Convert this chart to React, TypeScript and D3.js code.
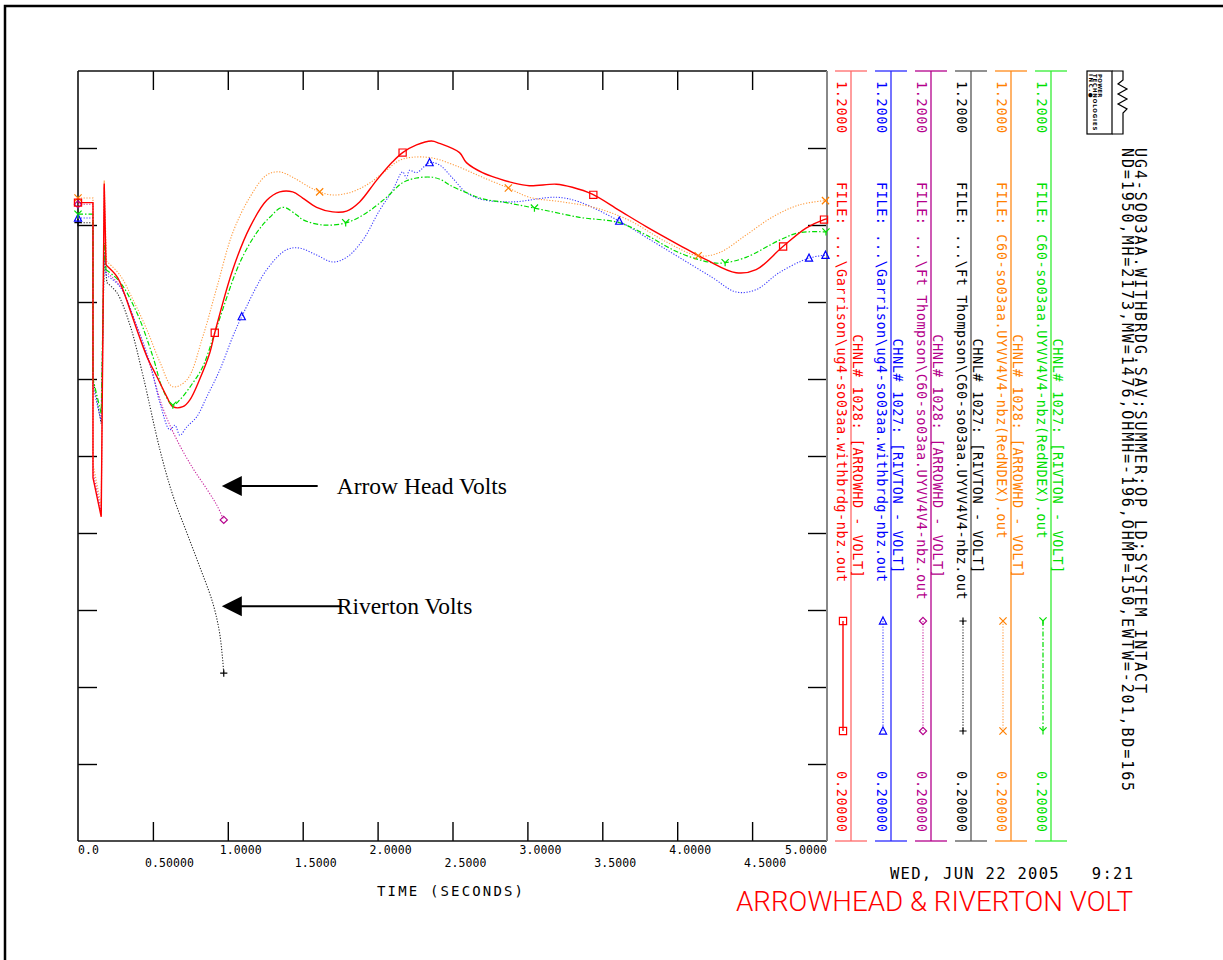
import React, { useEffect, useRef } from 'react';
import * as d3 from 'd3';

type Pt = [number, number];

// time (s), voltage (pu)
const garrisonArrowhd: Pt[] = [
  [0, 1.029], [0.1, 1.029], [0.1, 0.672], [0.155, 0.621], [0.175, 1.054], [0.187, 0.948],
  [0.26, 0.933], [0.3, 0.916], [0.347, 0.89], [0.393, 0.864], [0.46, 0.829], [0.527, 0.803],
  [0.593, 0.777], [0.633, 0.764], [0.7, 0.764], [0.747, 0.773], [0.813, 0.8], [0.88, 0.834],
  [0.913, 0.86], [1.033, 0.942], [1.147, 0.997], [1.26, 1.032], [1.347, 1.043], [1.433, 1.043],
  [1.5, 1.035], [1.593, 1.023], [1.7, 1.017], [1.793, 1.018], [1.88, 1.03], [1.993, 1.058],
  [2.1, 1.082], [2.167, 1.094], [2.26, 1.104], [2.36, 1.109], [2.413, 1.106], [2.547, 1.094],
  [2.593, 1.081], [2.7, 1.068], [2.813, 1.06], [2.9, 1.055], [3.013, 1.051], [3.193, 1.053],
  [3.3, 1.049], [3.433, 1.04], [3.613, 1.019], [3.793, 0.998], [4.013, 0.974], [4.193, 0.955],
  [4.393, 0.938], [4.527, 0.942], [4.7, 0.971], [4.86, 0.996], [4.98, 1.007], [5.0, 1.008],
];
const garrisonRivton: Pt[] = [
  [0, 1.009], [0.1, 1.009], [0.1, 0.79], [0.155, 0.745], [0.175, 0.965], [0.187, 0.935],
  [0.28, 0.92], [0.393, 0.868], [0.48, 0.821], [0.547, 0.769], [0.613, 0.734], [0.647, 0.74],
  [0.68, 0.727], [0.727, 0.738], [0.793, 0.751], [0.86, 0.777], [0.947, 0.812], [1.033, 0.855],
  [1.093, 0.881], [1.26, 0.942], [1.393, 0.968], [1.48, 0.97], [1.593, 0.961], [1.7, 0.952],
  [1.793, 0.958], [1.9, 0.98], [2.013, 1.019], [2.1, 1.045], [2.167, 1.069], [2.193, 1.061],
  [2.213, 1.071], [2.26, 1.068], [2.347, 1.081], [2.413, 1.078], [2.5, 1.061], [2.593, 1.042],
  [2.7, 1.033], [2.9, 1.03], [3.193, 1.036], [3.347, 1.03], [3.613, 1.005], [3.793, 0.984],
  [4.013, 0.958], [4.233, 0.932], [4.393, 0.913], [4.527, 0.916], [4.68, 0.938], [4.88, 0.957],
  [5.0, 0.961],
];
const ftThompsonArrowhd: Pt[] = [
  [0, 1.027], [0.1, 1.027], [0.1, 0.68], [0.155, 0.628], [0.175, 1.05], [0.187, 0.939],
  [0.28, 0.921], [0.393, 0.868], [0.48, 0.818], [0.567, 0.762], [0.66, 0.721], [0.767, 0.684],
  [0.86, 0.657], [0.927, 0.636], [0.973, 0.617],
];
const ftThompsonRivton: Pt[] = [
  [0, 1.003], [0.1, 1.003], [0.1, 0.8], [0.155, 0.742], [0.175, 0.96], [0.193, 0.925],
  [0.26, 0.912], [0.347, 0.87], [0.433, 0.805], [0.547, 0.708], [0.633, 0.649], [0.727, 0.6],
  [0.813, 0.556], [0.9, 0.509], [0.947, 0.468], [0.973, 0.418],
];
const redndexArrowhd: Pt[] = [
  [0, 1.035], [0.1, 1.035], [0.1, 0.69], [0.155, 0.635], [0.175, 1.058], [0.19, 0.953],
  [0.28, 0.935], [0.367, 0.903], [0.46, 0.864], [0.547, 0.822], [0.633, 0.79], [0.727, 0.799],
  [0.833, 0.855], [0.927, 0.919], [1.033, 0.99], [1.147, 1.036], [1.26, 1.065], [1.347, 1.069],
  [1.433, 1.062], [1.547, 1.049], [1.613, 1.043], [1.7, 1.039], [1.813, 1.042], [1.927, 1.052],
  [2.033, 1.067], [2.147, 1.084], [2.233, 1.088], [2.367, 1.087], [2.547, 1.075], [2.7, 1.062],
  [2.873, 1.048], [3.013, 1.036], [3.233, 1.03], [3.46, 1.022], [3.68, 1.006], [3.927, 0.978],
  [4.14, 0.96], [4.28, 0.964], [4.46, 0.987], [4.633, 1.01], [4.813, 1.026], [5.0, 1.032],
];
const redndexRivton: Pt[] = [
  [0, 1.014], [0.1, 1.014], [0.1, 0.8], [0.155, 0.755], [0.175, 0.977], [0.187, 0.942],
  [0.28, 0.926], [0.393, 0.886], [0.5, 0.829], [0.567, 0.786], [0.633, 0.766], [0.68, 0.773],
  [0.767, 0.795], [0.833, 0.816], [0.927, 0.868], [1.08, 0.951], [1.193, 0.99], [1.28, 1.01],
  [1.367, 1.023], [1.46, 1.013], [1.5, 1.007], [1.633, 1.0], [1.793, 1.003], [1.927, 1.016],
  [2.06, 1.036], [2.167, 1.055], [2.26, 1.061], [2.367, 1.062], [2.433, 1.058], [2.48, 1.052],
  [2.593, 1.042], [2.7, 1.034], [2.86, 1.029], [3.047, 1.022], [3.347, 1.01], [3.613, 1.003],
  [3.793, 0.987], [4.013, 0.964], [4.233, 0.951], [4.32, 0.951], [4.46, 0.958], [4.68, 0.98],
  [4.813, 0.99], [5.0, 0.991],
];

// times where the plot program dropped its channel symbols
const garrisonArrowhdMarks = [0, 0.913, 2.167, 3.44, 4.707, 4.98];
const garrisonRivtonMarks = [0, 1.093, 2.347, 3.613, 4.88, 4.99];
const ftThompsonArrowhdMarks = [0, 0.973];
const ftThompsonRivtonMarks = [0, 0.973];
const redndexArrowhdMarks = [0, 1.613, 2.873, 4.14, 4.99];
const redndexRivtonMarks = [0, 0.633, 1.787, 3.047, 4.32, 4.993];

const majorTicks = [0, 1, 2, 3, 4, 5];
const majorLabels = ['0.0', '1.0000', '2.0000', '3.0000', '4.0000', '5.0000'];
const minorTicks = [0.5, 1.5, 2.5, 3.5, 4.5];
const minorLabels = ['0.50000', '1.5000', '2.5000', '3.5000', '4.5000'];
const yTicks = [0.3, 0.4, 0.5, 0.6, 0.7, 0.8, 0.9, 1.0, 1.1];
const yTopLabel = '1.2000';
const yBottomLabel = '0.20000';

const headerLines = [
  'UG4-SO03AA.WITHBRDG.SAV;SUMMER;OP LD;SYSTEM INTACT',
  'ND=1950,MH=2173,MW=1476,OHMH=-196,OHMP=150,EWTW=-201,BD=165',
];
const stamp = 'WED, JUN 22 2005   9:21';
const plotTitle = 'ARROWHEAD & RIVERTON VOLT';

// arrows drawn by hand on the printout (data units)
const notes = [
  { label: 'Arrow Head Volts', tip: [0.96, 0.661], tail: 1.6, text: 1.727 },
  { label: 'Riverton Volts', tip: [0.96, 0.505], tail: 1.76, text: 1.727 },
];

type Marker = 'square' | 'triangle' | 'diamond' | 'plus' | 'cross' | 'ymark';

const channels = [
  { file: 'FILE: ...\\Garrison\\ug4-so03aa.withbrdg-nbz.out', chnl: 'CHNL# 1028: [ARROWHD - VOLT]',
    text: '#ff0000', rule: '#ff6a6a', stroke: '#ff0000', dash: '', width: 1.4, marker: 'square' as Marker,
    data: garrisonArrowhd, marks: garrisonArrowhdMarks },
  { file: 'FILE: ...\\Garrison\\ug4-so03aa.withbrdg-nbz.out', chnl: 'CHNL# 1027: [RIVTON - VOLT]',
    text: '#0000ff', rule: '#2a2aff', stroke: '#3a3aff', dash: '1.2,1.6', width: 1.1, marker: 'triangle' as Marker,
    data: garrisonRivton, marks: garrisonRivtonMarks },
  { file: 'FILE: ...\\Ft Thompson\\C60-so03aa.UYVV4V4-nbz.out', chnl: 'CHNL# 1028: [ARROWHD - VOLT]',
    text: '#b4008c', rule: '#b4008c', stroke: '#c8249e', dash: '1.2,1.6', width: 1.1, marker: 'diamond' as Marker,
    data: ftThompsonArrowhd, marks: ftThompsonArrowhdMarks },
  { file: 'FILE: ...\\Ft Thompson\\C60-so03aa.UYVV4V4-nbz.out', chnl: 'CHNL# 1027: [RIVTON - VOLT]',
    text: '#000000', rule: '#555555', stroke: '#222222', dash: '1.2,1.6', width: 1.1, marker: 'plus' as Marker,
    data: ftThompsonRivton, marks: ftThompsonRivtonMarks },
  { file: 'FILE: C60-so03aa.UYVV4V4-nbz(RedNDEX).out', chnl: 'CHNL# 1028: [ARROWHD - VOLT]',
    text: '#ff8000', rule: '#ff8a1a', stroke: '#ff9a3c', dash: '1.2,1.6', width: 1.1, marker: 'cross' as Marker,
    data: redndexArrowhd, marks: redndexArrowhdMarks },
  { file: 'FILE: C60-so03aa.UYVV4V4-nbz(RedNDEX).out', chnl: 'CHNL# 1027: [RIVTON - VOLT]',
    text: '#00e000', rule: '#33ee33', stroke: '#00dd00', dash: '5,2,1.5,2', width: 1.2, marker: 'ymark' as Marker,
    data: redndexRivton, marks: redndexRivtonMarks },
];

const mono = "'DejaVu Sans Mono', 'Liberation Mono', monospace";

const symbolPath = (kind: Marker, cx: number, cy: number) => {
  const r = 3.6;
  switch (kind) {
    case 'square': return `M${cx - r},${cy - r}H${cx + r}V${cy + r}H${cx - r}Z`;
    case 'triangle': return `M${cx},${cy - r - 0.5}L${cx + r},${cy + r - 0.5}H${cx - r}Z`;
    case 'diamond': return `M${cx},${cy - r}L${cx + r},${cy}L${cx},${cy + r}L${cx - r},${cy}Z`;
    case 'plus': return `M${cx - r},${cy}H${cx + r}M${cx},${cy - r}V${cy + r}`;
    case 'cross': return `M${cx - r},${cy - r}L${cx + r},${cy + r}M${cx - r},${cy + r}L${cx + r},${cy - r}`;
    default: return `M${cx - r},${cy - r}L${cx},${cy}L${cx + r},${cy - r}M${cx},${cy}V${cy + r}`;
  }
};

const valueAt = (data: Pt[], t: number) => {
  const i = d3.bisector((d: Pt) => d[0]).left(data, t);
  if (i <= 0) return data[0][1];
  if (i >= data.length) return data[data.length - 1][1];
  const a = data[i - 1], b = data[i];
  if (b[0] === t) return b[1];
  return a[1] + ((b[1] - a[1]) * (t - a[0])) / (b[0] - a[0]);
};

const App = () => {
  const svgRef = useRef<SVGSVGElement>(null);

  useEffect(() => {
    const svg = d3.select(svgRef.current);
    svg.selectAll('*').remove();

    const x = d3.scaleLinear().domain([0, 5]).range([78, 827]);
    const y = d3.scaleLinear().domain([0.2, 1.2]).range([841, 71]);
    const [left, right] = x.range();
    const [bottom, top] = y.range();

    // page border
    svg.append('rect').attr('x', 5).attr('y', 6).attr('width', 1240).attr('height', 990)
      .attr('fill', 'none').attr('stroke', '#000').attr('stroke-width', 2.5);

    svg.append('defs').append('clipPath').attr('id', 'plotClip')
      .append('rect').attr('x', left).attr('y', top).attr('width', right - left).attr('height', bottom - top);

    // inward ticks on all four sides
    const tick = 19;
    const xTickVals = minorTicks.concat(majorTicks.slice(1, -1));
    svg.append('g').attr('transform', `translate(${left},0)`)
      .call(d3.axisLeft(y).tickValues(yTicks).tickSize(-tick).tickFormat(() => ''))
      .attr('color', '#000').call(g => g.select('.domain').remove());
    svg.append('g').attr('transform', `translate(${right},0)`)
      .call(d3.axisRight(y).tickValues(yTicks).tickSize(-tick).tickFormat(() => ''))
      .attr('color', '#000').call(g => g.select('.domain').remove());
    svg.append('g').attr('transform', `translate(0,${top})`)
      .call(d3.axisTop(x).tickValues(xTickVals).tickSize(-tick).tickFormat(() => ''))
      .attr('color', '#000').call(g => g.select('.domain').remove());
    svg.append('g').attr('transform', `translate(0,${bottom})`)
      .call(d3.axisBottom(x).tickValues(xTickVals).tickSize(-tick).tickFormat(() => ''))
      .attr('color', '#000').call(g => g.select('.domain').remove());
    svg.selectAll('.tick line').attr('stroke-width', 1.4);

    // frame
    svg.append('line').attr('x1', left).attr('x2', left).attr('y1', top).attr('y2', bottom).attr('stroke', '#111').attr('stroke-width', 1.6);
    svg.append('line').attr('x1', left).attr('x2', right).attr('y1', top).attr('y2', top).attr('stroke', '#111').attr('stroke-width', 1.6);
    svg.append('line').attr('x1', left).attr('x2', right).attr('y1', bottom).attr('y2', bottom).attr('stroke', '#111').attr('stroke-width', 1.6);
    svg.append('line').attr('x1', right).attr('x2', right).attr('y1', top).attr('y2', bottom).attr('stroke', '#888').attr('stroke-width', 2);

    // x labels, two staggered rows
    const charW = 7;
    const placeLabel = (t: number, s: string) => {
      const w = s.length * charW;
      return Math.max(left, Math.min(x(t) - 8, right - w));
    };
    majorTicks.forEach((t, i) => {
      svg.append('text').attr('x', placeLabel(t, majorLabels[i])).attr('y', 854)
        .attr('font-family', mono).attr('font-size', 11.5).attr('textLength', majorLabels[i].length * charW)
        .text(majorLabels[i]);
    });
    minorTicks.forEach((t, i) => {
      svg.append('text').attr('x', placeLabel(t, minorLabels[i])).attr('y', 867)
        .attr('font-family', mono).attr('font-size', 11.5).attr('textLength', minorLabels[i].length * charW)
        .text(minorLabels[i]);
    });
    svg.append('text').attr('x', 377).attr('y', 896).attr('font-family', mono).attr('font-size', 14)
      .attr('textLength', 146).text('TIME (SECONDS)');

    // curves: the fault/clearing steps straight, the swings smoothed
    const straight = d3.line<Pt>().x(d => x(d[0])).y(d => y(d[1]));
    const smooth = d3.line<Pt>().x(d => x(d[0])).y(d => y(d[1])).curve(d3.curveCatmullRom.alpha(0.5));
    const plot = svg.append('g').attr('clip-path', 'url(#plotClip)');
    const order = [3, 2, 1, 4, 5, 0];
    order.forEach(i => {
      const c = channels[i];
      const early = c.data.filter(d => d[0] < 0.2);
      const spike = d3.maxIndex(early, d => (d[0] > 0.1 ? d[1] : -1));
      const k = spike + 1;
      [straight(c.data.slice(0, k + 1)), smooth(c.data.slice(k))].forEach(d => {
        plot.append('path').attr('d', d).attr('fill', 'none')
          .attr('stroke', c.stroke).attr('stroke-width', c.width)
          .attr('stroke-dasharray', c.dash || null);
      });
    });
    order.forEach(i => {
      const c = channels[i];
      c.marks.forEach(t => {
        svg.append('path').attr('d', symbolPath(c.marker, x(t), y(valueAt(c.data, t))))
          .attr('fill', 'none').attr('stroke', c.text).attr('stroke-width', 1.2);
      });
    });

    // hand-drawn arrows
    notes.forEach(n => {
      const tx = x(n.tip[0]), ty = y(n.tip[1]);
      svg.append('line').attr('x1', tx + 18).attr('x2', x(n.tail)).attr('y1', ty).attr('y2', ty)
        .attr('stroke', '#000').attr('stroke-width', 2);
      svg.append('path').attr('d', `M${tx},${ty}L${tx + 20},${ty - 10}V${ty + 10}Z`).attr('fill', '#000');
      svg.append('text').attr('x', x(n.text)).attr('y', ty + 8)
        .attr('font-family', "'Liberation Serif', 'Times New Roman', serif").attr('font-size', 23.5)
        .text(n.label);
    });

    // legend columns, text running top to bottom
    const col = d3.scaleBand<number>().domain(channels.map((_, i) => i)).range([835, 1075]);
    const adv = 8.7;
    const vtext = (xx: number, yy: number, s: string, color: string, anchor: string) =>
      svg.append('text').attr('transform', `translate(${xx},${yy}) rotate(90)`)
        .attr('font-family', mono).attr('font-size', 13.5).attr('fill', color)
        .attr('text-anchor', anchor).attr('textLength', s.length * adv).text(s);
    channels.forEach((c, i) => {
      const cx = col(i)!;
      const g = svg.append('g');
      g.append('line').attr('x1', cx).attr('x2', cx + 32).attr('y1', top).attr('y2', top).attr('stroke', c.rule).attr('stroke-width', 1.3);
      g.append('line').attr('x1', cx).attr('x2', cx + 32).attr('y1', bottom).attr('y2', bottom).attr('stroke', c.rule).attr('stroke-width', 1.3);
      g.append('line').attr('x1', cx + 16).attr('x2', cx + 16).attr('y1', top).attr('y2', bottom).attr('stroke', c.rule).attr('stroke-width', 1.3);
      vtext(cx + 2, 81, yTopLabel, c.text, 'start');
      vtext(cx + 2, 182, c.file, c.text, 'start');
      vtext(cx + 18, (top + bottom) / 2, c.chnl, c.text, 'middle');
      vtext(cx + 2, 832, yBottomLabel, c.text, 'end');
      const sx = cx + 8;
      g.append('line').attr('x1', sx).attr('x2', sx).attr('y1', 621).attr('y2', 731)
        .attr('stroke', c.stroke).attr('stroke-width', c.width).attr('stroke-dasharray', c.dash || null);
      [621, 731].forEach(sy => g.append('path').attr('d', symbolPath(c.marker, sx, sy))
        .attr('fill', 'none').attr('stroke', c.text).attr('stroke-width', 1.2));
    });

    // company logo
    const logo = svg.append('g').attr('stroke', '#000').attr('fill', 'none').attr('stroke-width', 1.2);
    logo.append('rect').attr('x', 1087).attr('y', 71).attr('width', 25).attr('height', 63);
    logo.append('path').attr('d', 'M1112,71H1123V80L1118,84L1127,89L1118,94L1127,99L1118,104L1127,109L1123,113V134H1112');
    ['POWER', 'TECHNOLOGIES', 'INC.\u25CF'].forEach((s, i) => {
      svg.append('text').attr('transform', `translate(${1098 - i * 4.6},74) rotate(90)`)
        .attr('font-family', "'DejaVu Sans', sans-serif").attr('font-weight', 'bold').attr('font-size', 5.4)
        .attr('textLength', s.length * 4.7).text(s);
    });

    // run header, below the logo
    headerLines.forEach((s, i) => {
      svg.append('text').attr('transform', `translate(${1135 - i * 13},148) rotate(90)`)
        .attr('font-family', mono).attr('font-size', 15).attr('textLength', s.length * 10.9).text(s);
    });

    svg.append('text').attr('x', 1133).attr('y', 879).attr('text-anchor', 'end')
      .attr('font-family', mono).attr('font-size', 15.5).attr('textLength', 243)
      .style('white-space', 'pre').text(stamp);
    svg.append('text').attr('x', 1133).attr('y', 911).attr('text-anchor', 'end')
      .attr('font-family', "'Roboto', 'Lato', sans-serif").attr('font-weight', 300).attr('font-size', 28)
      .attr('fill', '#ff0000')
      .attr('textLength', 397).attr('lengthAdjust', 'spacingAndGlyphs').text(plotTitle);
  }, []);

  return (
    <svg ref={svgRef} width={1223} height={960}
      style={{ position: 'absolute', left: 0, top: 0, background: '#fff' }} />
  );
};

export default App;
